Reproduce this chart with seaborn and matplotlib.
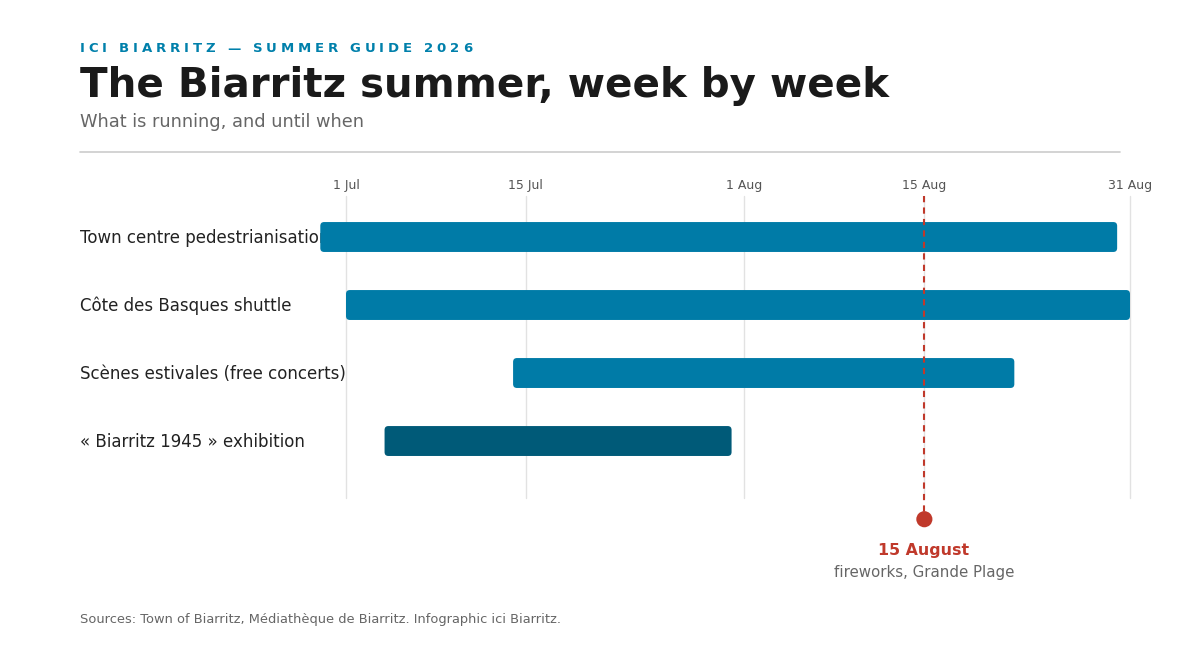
import matplotlib; matplotlib.use('Agg')
import numpy as np
import pandas as pd
import seaborn as sns
import matplotlib.pyplot as plt
from matplotlib.patches import FancyBboxPatch

# days counted from 1 July (day 0)
events = ["Town centre pedestrianisation", "Côte des Basques shuttle",
          "Scènes estivales (free concerts)", "« Biarritz 1945 » exhibition"]
start_day = [-2, 0, 13, 3]
end_day = [60, 61, 52, 30]
bar_colors = ["#007BA7", "#007BA7", "#007BA7", "#005A78"]

tick_days = [0, 14, 31, 45, 61]
tick_labels = ["1 Jul", "15 Jul", "1 Aug", "15 Aug", "31 Aug"]

fireworks_day = 45

sns.set_theme(style="white")
plt.rcParams['font.family'] = ['DejaVu Sans']

W, H = 1200, 660
fig = plt.figure(figsize=(12, 6.6), dpi=100)

def fx(px):
    return px / W

def fy(py):
    return 1 - py / H

# axes: day 0 at x=346, day 61 at x=1130; top y=196, bottom y=498
ax = fig.add_axes([fx(346), fy(498), fx(1130 - 346), (498 - 196) / H])
for s in ax.spines.values():
    s.set_visible(False)
ax.grid(False)
for d in tick_days:
    ax.axvline(d, color="#e2e2e2", lw=1, zorder=0, clip_on=False)

bar_h = 0.44
df = pd.DataFrame({"event": events, "start": start_day, "end": end_day, "color": bar_colors})
for i, row in df.iterrows():
    p = FancyBboxPatch((row["start"], i - bar_h / 2), row["end"] - row["start"], bar_h,
                       boxstyle="round,pad=0,rounding_size=0.3", mutation_aspect=0.19,
                       facecolor=row["color"], edgecolor="none", zorder=3, clip_on=False)
    ax.add_patch(p)
    # label sits beneath the bars
    ax.text(fx(80), fy(238 + i * 68), row["event"], transform=fig.transFigure,
            fontsize=12, color="#222222", ha="left", va="center", zorder=1, clip_on=False)

# 15 August marker
ax.plot([fireworks_day, fireworks_day], [-0.603, 4.08], color="#C0392B", lw=1.5,
        ls=(0, (3, 2.5)), zorder=4, clip_on=False)
sns.scatterplot(x=[fireworks_day], y=[4.15], ax=ax, color="#C0392B", s=135,
                edgecolor="none", zorder=5, clip_on=False, legend=False)
ax.set_xlabel("")
ax.set_ylabel("")
ax.set_xlim(0, 61)
ax.set_ylim(3.838, -0.603)
ax.set_yticks([])
ax.xaxis.tick_top()
ax.set_xticks(tick_days)
ax.set_xticklabels(tick_labels, fontsize=9, color="#555555")
ax.tick_params(axis="x", length=0, pad=3)

fig.text(fx(924), fy(550), "15 August", fontsize=11.4, fontweight="bold",
         color="#C0392B", ha="center", va="center")
fig.text(fx(924), fy(572), "fireworks, Grande Plage", fontsize=10.8,
         color="#666666", ha="center", va="center")

# header: letter-spaced kicker, fitted to span x=80..472
fig.canvas.draw()
renderer = fig.canvas.get_renderer()
kicker = "ICI BIARRITZ — SUMMER GUIDE 2026"
ksize = 9.5
widths = []
for ch in kicker:
    t = fig.text(0, 0, ch if ch != " " else "i", fontsize=ksize, fontweight="bold")
    w = t.get_window_extent(renderer).width
    t.remove()
    widths.append(4.5 if ch == " " else w)
gap = (472 - 80 - sum(widths)) / (len(kicker) - 1)
x = 80
for ch, w in zip(kicker, widths):
    if ch != " ":
        fig.text(fx(x), fy(49), ch, fontsize=ksize, fontweight="bold", color="#0080AB",
                 ha="left", va="center")
    x += w + gap

fig.text(fx(80), fy(86), "The Biarritz summer, week by week", fontsize=29.1,
         fontweight="bold", color="#1a1a1a", ha="left", va="center")
fig.text(fx(80), fy(122), "What is running, and until when", fontsize=12.8,
         color="#666666", ha="left", va="center")
fig.add_artist(plt.Line2D([fx(80), fx(1120)], [fy(152), fy(152)], color="#cccccc", lw=1.2))

fig.text(fx(80), fy(620), "Sources: Town of Biarritz, Médiathèque de Biarritz. Infographic ici Biarritz.",
         fontsize=9.35, color="#666666", ha="left", va="center")

fig.savefig("out.png", dpi=100, facecolor="white")
plt.close(fig)
